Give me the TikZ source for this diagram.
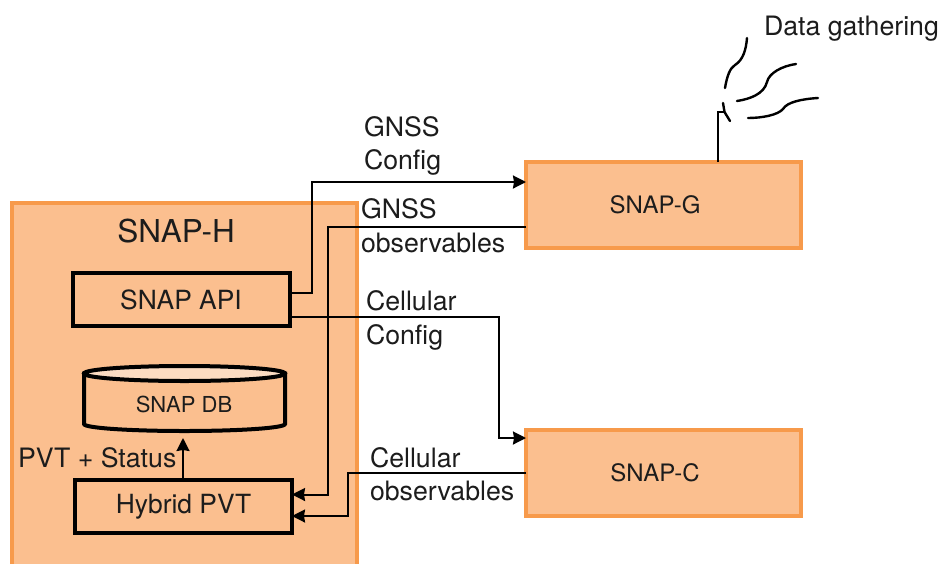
\documentclass[tikz,border=0pt]{standalone}
\usepackage{fontspec}
\setmainfont{TeX Gyre Heros}
\usepackage{xcolor}
\usepackage{tikz}
\usetikzlibrary{arrows.meta, calc}
\tikzset{>={Stealth[scale=1]}}
\definecolor{snapfill}{HTML}{FBBF8F}
\definecolor{snapedge}{HTML}{F79A4B}
\definecolor{snaptop}{HTML}{FCDCC2}
\definecolor{snapink}{HTML}{1C1C1C}
\tikzset{
    snapbox/.style={draw=snapedge, fill=snapfill, line width=4pt, outer sep=0pt, inner sep=0pt},
    blockbox/.style={draw=black, line width=4pt, outer sep=0pt, inner sep=0pt, text=snapink,
        minimum width=217pt, minimum height=53pt, font=\fontsize{26.4}{30}\selectfont},
    tag/.style={anchor=base west, inner sep=0pt, outer sep=0pt, text=snapink, font=\fontsize{26.7}{30}\selectfont},
    plain/.style={inner sep=0pt, text=snapink, font=\fontsize{24}{28}\selectfont},
    drum/.style={draw=black, line width=4pt},
    link/.style={draw=black, line width=2pt, >={Stealth[length=13pt, width=13pt, inset=1pt]}},
    wave/.style={draw=black, line width=2.4pt, line cap=round}
}
\begin{document}
\begin{tikzpicture}[x=1pt, y=-1pt]
    \clip (0,0) rectangle (942,563);
    \node[snapbox, minimum width=345pt, minimum height=420pt] (snaph) at (184.5,413) {};
    \node[snapbox, minimum width=275pt, minimum height=86pt] (snapg) at (663.5,205) {};
    \node[snapbox, minimum width=275pt, minimum height=86pt] (snapc) at (663.5,473) {};
    \node[plain] (snapglabel) at (655,205) {SNAP-G};
    \node[plain] (snapclabel) at (655,473) {SNAP-C};
    \node[plain, font=\fontsize{31.5}{35}\selectfont] (hosttitle) at (176,231) {SNAP-H};
    \node[blockbox] (api) at (181,299.5) {SNAP API};
    \node[blockbox] (hybrid) at (183.5,506.5) {Hybrid PVT};
    % database drum
    \draw[drum, fill=snapfill] (84,373.5) -- (84,424) .. controls (84,428) and (130,431) .. (184.5,431)
        .. controls (239,431) and (285,428) .. (285,424) -- (285,373.5) -- cycle;
    \draw[drum, fill=snaptop] (184.5,373.5) ellipse [x radius=100.5pt, y radius=7.5pt];
    \node[minimum width=201pt, minimum height=66pt, inner sep=0pt, outer sep=0pt] (db) at (184.5,399) {};
    \node[plain, font=\fontsize{22}{26}\selectfont] (dblabel) at (184,404) {SNAP DB};
    % connectors
    \draw[link, ->] ([yshift=7pt]api.east) -- ++(22,0) |- ([yshift=23pt]snapg.west);
    \draw[link, ->] ([yshift=-22pt]snapg.west) -- (328,227) |- ([yshift=12pt]hybrid.east);
    \draw[link, ->] ([yshift=-17.5pt]api.east) -| (499,380) |- ([yshift=35pt]snapc.west);
    \draw[link, ->] (snapc.west) -- (348,473) |- ([yshift=-9.5pt]hybrid.east);
    \draw[link, ->] (hybrid.north -| 183,0) -- ([yshift=-6pt]db.south -| 183,0);
    % antenna
    \coordinate (mast) at (718,112);
    \draw[black, line width=2.6pt] (snapg.north -| mast) -- (mast) -- (725,112);
    \draw[wave] (723,103) -- (724.5,112) -- (730,121);
    \draw[wave] (725,88) .. controls (727,76) and (730,68) .. (735,65) .. controls (743,60) and (746,50) .. (747,38);
    \draw[wave] (737,101) .. controls (750,99) and (764,94) .. (767,82) .. controls (769,73) and (782,66) .. (796,64);
    \draw[wave] (748,118) .. controls (762,118) and (778,115) .. (783,109) .. controls (787,102) and (802,99) .. (818,98);
    % labels
    \node[tag] (datatag) at (764,35) {Data gathering};
    \node[tag] (gnsscfga) at (364,136) {GNSS};
    \node[tag] (gnsscfgb) at (364,169) {Config};
    \node[tag] (gnssobsa) at (361,218) {GNSS};
    \node[tag] (gnssobsb) at (361,252) {observables};
    \node[tag] (cellcfga) at (366,310) {Cellular};
    \node[tag] (cellcfgb) at (366,344) {Config};
    \node[tag] (cellobsa) at (370,467) {Cellular};
    \node[tag] (cellobsb) at (370,500) {observables};
    \node[tag] (pvttag) at (18,467) {PVT + Status};
\end{tikzpicture}
\end{document}
